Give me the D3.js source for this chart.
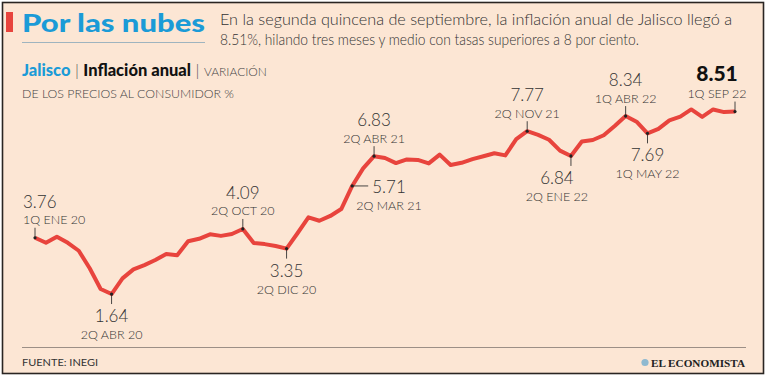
<!DOCTYPE html>
<html><head><meta charset="utf-8">
<script src="https://cdn.jsdelivr.net/npm/d3@7/dist/d3.min.js"></script>
<style>
html,body{margin:0;padding:0;background:#fff;}
svg{display:block;font-family:Lato,"Noto Sans",sans-serif;}
</style></head>
<body><svg id="c" width="768" height="379"></svg>
<script>
// ---- data ----
const months = ["ENE","FEB","MAR","ABR","MAY","JUN","JUL","AGO","SEP","OCT","NOV","DIC"];
const years = ["20","21","22"];
const categories = [];
years.forEach(y => months.forEach(m => { categories.push("1Q " + m + " " + y); categories.push("2Q " + m + " " + y); }));
const periods = categories.slice(0, categories.indexOf("1Q SEP 22") + 1);
const inflation = [
  3.76, 3.57, 3.80, 3.57, 3.27, 2.61, 1.83, 1.64, 2.23, 2.57, 2.73, 2.92,
  3.15, 3.10, 3.63, 3.72, 3.89, 3.83, 3.90, 4.09, 3.56, 3.52, 3.45, 3.35,
  3.93, 4.53, 4.40, 4.58, 4.84, 5.71, 6.37, 6.83, 6.76, 6.57, 6.71, 6.69,
  6.56, 6.89, 6.50, 6.58, 6.72, 6.83, 6.94, 6.86, 7.47, 7.77, 7.63, 7.45,
  7.04, 6.84, 7.38, 7.44, 7.62, 7.97, 8.34, 8.13, 7.69, 7.86, 8.18, 8.32,
  8.59, 8.31, 8.59, 8.49, 8.51
];
const annotated = ["1Q ENE 20","2Q ABR 20","2Q OCT 20","2Q DIC 20","2Q MAR 21","2Q ABR 21","2Q NOV 21","2Q ENE 22","1Q ABR 22","1Q MAY 22","1Q SEP 22"];
const annotatedPlace = ["start","below","above","below","right","above","above","below","above","below","last"];
const titleText = "Por las nubes";
const introLines = ["En la segunda quincena de septiembre, la inflación anual de Jalisco llegó a",
                    "8.51%, hilando tres meses y medio con tasas superiores a 8 por ciento."];
const sourceText = "FUENTE: INEGI";
const brandText = "EL ECONOMISTA";

// ---- drawing ----
const svg = d3.select("#c");
const BG = "#fce6d4", RED = "#e8443d", CYAN = "#1b9bd7", INK = "#333";

svg.append("rect").attr("x",0).attr("y",0).attr("width",768).attr("height",379).attr("fill","#fff");
svg.append("rect").attr("x",2.5).attr("y",2.5).attr("width",761).attr("height",371)
  .attr("fill",BG).attr("stroke","#2a2522").attr("stroke-width",1.6);

// header
svg.append("rect").attr("x",6).attr("y",12).attr("width",7).attr("height",20).attr("fill",RED);
svg.append("text").attr("x",22).attr("y",32).attr("fill",CYAN)
  .attr("font-weight",900).attr("font-size",24).attr("textLength",183).attr("lengthAdjust","spacingAndGlyphs")
  .text(titleText);
svg.append("line").attr("x1",22).attr("x2",205).attr("y1",42.5).attr("y2",42.5)
  .attr("stroke","#9fb4bf").attr("stroke-width",1.2);
const introW = [512, 419];
introLines.forEach((t,i) => {
  svg.append("text").attr("x",220).attr("y",25 + i*20).attr("fill",INK)
    .attr("font-weight",300).attr("font-size",15.5).attr("textLength",introW[i]).attr("lengthAdjust","spacingAndGlyphs")
    .text(t);
});

const sub = svg.append("text").attr("x",22).attr("y",76).attr("font-size",16.5);
sub.append("tspan").attr("fill",CYAN).attr("font-weight",900).text("Jalisco");
sub.append("tspan").attr("fill","#555").attr("font-weight",300).text(" | ");
sub.append("tspan").attr("fill","#111").attr("font-weight",900).text("Inflación anual");
sub.append("tspan").attr("fill","#555").attr("font-weight",300).text(" | ");
sub.append("tspan").attr("fill","#444").attr("font-weight",300).attr("font-size",12).text("VARIACIÓN");
svg.append("text").attr("x",22).attr("y",98).attr("fill","#444").attr("font-weight",300)
  .attr("font-size",12).attr("textLength",212).attr("lengthAdjust","spacingAndGlyphs")
  .text("DE LOS PRECIOS AL CONSUMIDOR %");

// scales
const x = d3.scalePoint().domain(periods).range([35, 735]);
const y = d3.scaleLinear().domain([0, 10]).range([337.6, 72]);

const data = periods.map((p,i) => ({p, v: inflation[i]}));
svg.append("path").datum(data)
  .attr("fill","none").attr("stroke",RED).attr("stroke-width",4).attr("stroke-linejoin","round")
  .attr("d", d3.line().x(d => x(d.p)).y(d => y(d.v)));

// annotations
const fmt = d3.format(".2f");
annotated.forEach((p,k) => {
  const i = periods.indexOf(p), v = inflation[i];
  const px = x(p), py = y(v), place = annotatedPlace[k];
  const g = svg.append("g");
  let lx = px, anchor = "middle", vy, dy, tick;
  if (place === "start") { lx = 23; anchor = "start"; vy = py - 30; dy = py - 14; tick = [px,py,px,py-10]; }
  else if (place === "above") { vy = py - 30; dy = py - 13.5; tick = [px,py,px,py-10]; }
  else if (place === "last") { lx = px - 18; vy = py - 30; dy = py - 13.5; tick = [px,py,px,py-10]; }
  else if (place === "below") { vy = py + 28; dy = py + 45; tick = [px,py,px,py+10];
    if (p === "2Q ENE 22") lx = px - 14; }
  else { // right
    anchor = "start"; tick = [px,py,px+16,py];
    g.append("text").attr("x",px+20).attr("y",py+7).attr("fill",INK).attr("font-weight",300).attr("font-size",17).text(fmt(v));
    g.append("text").attr("x",px+4).attr("y",py+24).attr("fill",INK).attr("font-weight",300).attr("font-size",12.5).text(p);
  }
  g.append("line").attr("x1",tick[0]).attr("y1",tick[1]).attr("x2",tick[2]).attr("y2",tick[3])
    .attr("stroke","#333").attr("stroke-width",0.9);
  g.append("circle").attr("cx",px).attr("cy",py).attr("r",1.6).attr("fill","#222");
  if (place !== "right") {
    const big = place === "last";
    g.append("text").attr("x",lx).attr("y",vy + (big ? -1 : 0)).attr("text-anchor",anchor)
      .attr("fill", big ? "#111" : INK).attr("font-weight", big ? 900 : 300).attr("font-size", big ? 21 : 17)
      .text(fmt(v));
    g.append("text").attr("x",lx).attr("y",dy).attr("text-anchor",anchor).attr("fill",INK)
      .attr("font-weight",300).attr("font-size",12.5).text(p);
  }
});

// footer
svg.append("line").attr("x1",22).attr("x2",746).attr("y1",347.5).attr("y2",347.5)
  .attr("stroke","#9c8f86").attr("stroke-width",1);
svg.append("text").attr("x",22).attr("y",366).attr("fill","#333").attr("font-weight",400)
  .attr("font-size",10).attr("textLength",76).attr("lengthAdjust","spacingAndGlyphs").text(sourceText);
svg.append("circle").attr("cx",645).attr("cy",362.5).attr("r",3.6).attr("fill","#8fb9d0");
svg.append("text").attr("x",651).attr("y",366.5).attr("fill","#222").attr("font-family","'Liberation Serif',serif")
  .attr("font-weight",700).attr("font-size",10.5).attr("textLength",94).attr("lengthAdjust","spacingAndGlyphs").text(brandText);
</script></body></html>
